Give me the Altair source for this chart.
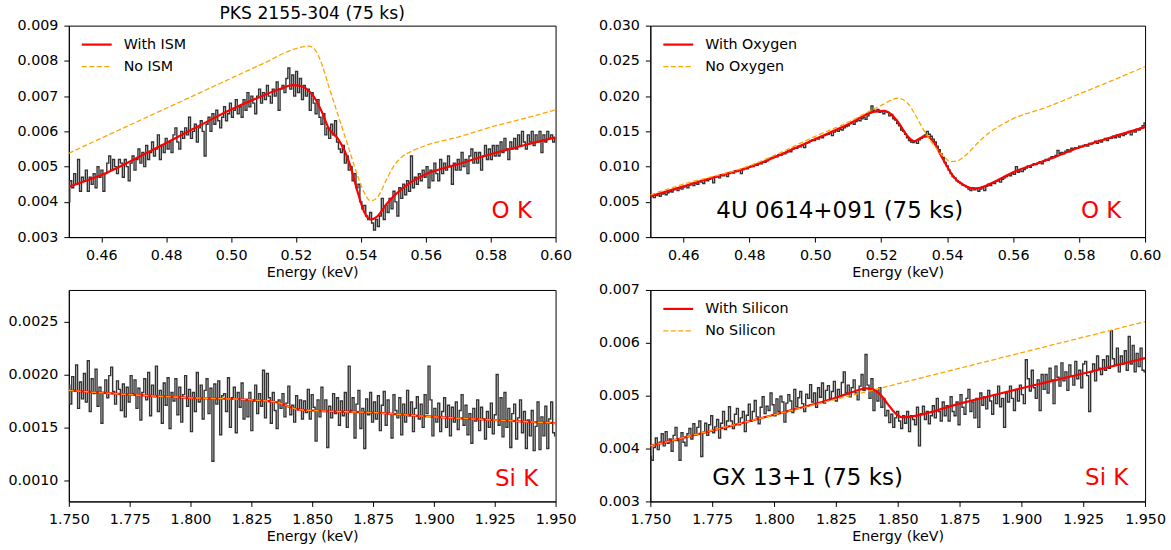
import altair as alt
import numpy as np
import pandas as pd

FONT = "DejaVu Sans"
DATA_COLOR = "#333333"
RED = "#ff0000"
ORANGE = "#ffa500"

# ---------------- Panel 1: PKS 2155-304, O K ----------------
p1_start, p1_bin = 0.450, 0.0006
p1_counts = [
    0.0040, 0.0046, 0.0044, 0.0048, 0.0045, 0.0052, 0.0043, 0.0047, 0.0046, 0.0049,
    0.0043, 0.0047, 0.0045, 0.0048, 0.0044, 0.0050, 0.0047, 0.0049, 0.0043, 0.0048,
    0.0051, 0.0053, 0.0049, 0.0052, 0.0050, 0.0048, 0.0052, 0.0051, 0.0047, 0.0052,
    0.0050, 0.0046, 0.0051, 0.0053, 0.0049, 0.0052, 0.0055, 0.0051, 0.0054, 0.0050,
    0.0056, 0.0052, 0.0054, 0.0057, 0.0053, 0.0055, 0.0059, 0.0052, 0.0056, 0.0054,
    0.0058, 0.0055, 0.0057, 0.0054, 0.0059, 0.0061, 0.0057, 0.0055, 0.0060, 0.0058,
    0.0061, 0.0059, 0.0064, 0.0058, 0.0060, 0.0062, 0.0057, 0.0061, 0.0063, 0.0060,
    0.0053, 0.0062, 0.0064, 0.0060, 0.0065, 0.0062, 0.0066, 0.0063, 0.0061, 0.0064,
    0.0067, 0.0063, 0.0065, 0.0068, 0.0064, 0.0066, 0.0069, 0.0065, 0.0067, 0.0064,
    0.0069, 0.0066, 0.0071, 0.0067, 0.0070, 0.0068, 0.0065, 0.0070, 0.0072, 0.0068,
    0.0071, 0.0069, 0.0073, 0.0070, 0.0068, 0.0072, 0.0070, 0.0074, 0.0066, 0.0072,
    0.0073, 0.0071, 0.0075, 0.0078, 0.0072, 0.0076, 0.0070, 0.0077, 0.0071, 0.0075,
    0.0069, 0.0073, 0.0070, 0.0072, 0.0066, 0.0071, 0.0068, 0.0065, 0.0069, 0.0064,
    0.0062, 0.0065, 0.0059, 0.0061, 0.0058, 0.0062, 0.0059, 0.0063, 0.0057, 0.0055,
    0.0054, 0.0056, 0.0051, 0.0053, 0.0049, 0.0050, 0.0046, 0.0048, 0.0044, 0.0045,
    0.0040, 0.0038, 0.0039, 0.0036, 0.0035, 0.0037, 0.0034, 0.0032, 0.0035, 0.0033,
    0.0036, 0.0041, 0.0035, 0.0039, 0.0037, 0.0041, 0.0038, 0.0043, 0.0040, 0.0036,
    0.0044, 0.0041, 0.0045, 0.0042, 0.0046, 0.0043, 0.0053, 0.0044, 0.0047, 0.0045,
    0.0048, 0.0046, 0.0049, 0.0047, 0.0050, 0.0044, 0.0049, 0.0046, 0.0051, 0.0048,
    0.0046, 0.0052, 0.0048, 0.0051, 0.0049, 0.0053, 0.0050, 0.0045, 0.0051, 0.0049,
    0.0052, 0.0049, 0.0054, 0.0050, 0.0052, 0.0048, 0.0053, 0.0055, 0.0051, 0.0054,
    0.0051, 0.0054, 0.0049, 0.0053, 0.0056, 0.0052, 0.0055, 0.0052, 0.0056, 0.0053,
    0.0056, 0.0053, 0.0057, 0.0054, 0.0058, 0.0055, 0.0052, 0.0057, 0.0055, 0.0058,
    0.0055, 0.0059, 0.0056, 0.0060, 0.0057, 0.0055, 0.0059, 0.0057, 0.0060, 0.0056,
    0.0059, 0.0057, 0.0060, 0.0054, 0.0059, 0.0057, 0.0060, 0.0058, 0.0059, 0.0057,
    0.0058,
]
p1_with_e = [0.45, 0.46, 0.47, 0.48, 0.49, 0.50, 0.51, 0.515, 0.519, 0.521, 0.523, 0.525,
             0.528, 0.530, 0.533, 0.535, 0.537, 0.539, 0.541, 0.543, 0.545, 0.548, 0.550,
             0.555, 0.56, 0.57, 0.58, 0.59, 0.60]
p1_with_v = [0.00443, 0.00476, 0.00520, 0.00567, 0.00615, 0.00662, 0.00702, 0.00720, 0.00731,
             0.00730, 0.00722, 0.00705, 0.00655, 0.00610, 0.00578, 0.00545, 0.00495, 0.00428,
             0.00372, 0.00350, 0.00358, 0.00395, 0.00415, 0.00453, 0.00478, 0.00507, 0.00535,
             0.00560, 0.00583]
p1_no_e = [0.45, 0.47, 0.49, 0.51, 0.52, 0.524, 0.526, 0.528, 0.530, 0.533, 0.536, 0.539,
           0.541, 0.543, 0.545, 0.548, 0.550, 0.553, 0.556, 0.56, 0.57, 0.58, 0.59, 0.60]
p1_no_v = [0.00538, 0.00623, 0.00708, 0.00793, 0.00835, 0.00842, 0.00830, 0.00790, 0.00731,
           0.00645, 0.00560, 0.00474, 0.00427, 0.00403, 0.00412, 0.00465, 0.00500, 0.00530,
           0.00545, 0.00560, 0.00584, 0.00612, 0.00636, 0.00661]

# ---------------- Panel 2: 4U 0614+091, O K ----------------
p2_start, p2_bin = 0.450, 0.0006
p2_counts = [
    0.0057, 0.0058, 0.0056, 0.0059, 0.0060, 0.0058, 0.0061, 0.0062, 0.0060, 0.0063,
    0.0065, 0.0064, 0.0067, 0.0069, 0.0066, 0.0070, 0.0068, 0.0071, 0.0072, 0.0070,
    0.0074, 0.0076, 0.0073, 0.0077, 0.0075, 0.0079, 0.0078, 0.0076, 0.0081, 0.0080,
    0.0082, 0.0084, 0.0077, 0.0085, 0.0086, 0.0084, 0.0088, 0.0087, 0.0089, 0.0086,
    0.0090, 0.0092, 0.0091, 0.0094, 0.0093, 0.0095, 0.0090, 0.0096, 0.0098, 0.0097,
    0.0099, 0.0101, 0.0100, 0.0103, 0.0102, 0.0105, 0.0104, 0.0107, 0.0106, 0.0108,
    0.0110, 0.0112, 0.0113, 0.0115, 0.0114, 0.0117, 0.0116, 0.0119, 0.0118, 0.0120,
    0.0123, 0.0121, 0.0125, 0.0127, 0.0126, 0.0129, 0.0128, 0.0131, 0.0127, 0.0133,
    0.0134, 0.0136, 0.0138, 0.0137, 0.0140, 0.0139, 0.0142, 0.0141, 0.0144, 0.0145,
    0.0146, 0.0148, 0.0144, 0.0149, 0.0151, 0.0150, 0.0153, 0.0152, 0.0155, 0.0157,
    0.0158, 0.0161, 0.0163, 0.0160, 0.0164, 0.0166, 0.0165, 0.0168, 0.0170, 0.0167,
    0.0172, 0.0176, 0.0186, 0.0180, 0.0178, 0.0181, 0.0177, 0.0179, 0.0175, 0.0178,
    0.0177, 0.0172, 0.0174, 0.0168, 0.0166, 0.0161, 0.0158, 0.0152, 0.0150, 0.0146,
    0.0141, 0.0137, 0.0135, 0.0134, 0.0136, 0.0133, 0.0138, 0.0140, 0.0143, 0.0145,
    0.0150, 0.0146, 0.0143, 0.0139, 0.0135, 0.0129, 0.0124, 0.0118, 0.0113, 0.0106,
    0.0101, 0.0095, 0.0090, 0.0086, 0.0084, 0.0080, 0.0078, 0.0076, 0.0074, 0.0073,
    0.0071, 0.0068, 0.0066, 0.0070, 0.0067, 0.0069, 0.0065, 0.0068, 0.0071, 0.0066,
    0.0072, 0.0075, 0.0073, 0.0077, 0.0076, 0.0079, 0.0080, 0.0078, 0.0082, 0.0084,
    0.0086, 0.0088, 0.0087, 0.0090, 0.0089, 0.0100, 0.0092, 0.0094, 0.0093, 0.0096,
    0.0098, 0.0101, 0.0099, 0.0102, 0.0104, 0.0103, 0.0105, 0.0107, 0.0104, 0.0108,
    0.0110, 0.0109, 0.0112, 0.0114, 0.0113, 0.0116, 0.0123, 0.0119, 0.0120, 0.0118,
    0.0122, 0.0124, 0.0121, 0.0126, 0.0125, 0.0127, 0.0126, 0.0129, 0.0128, 0.0130,
    0.0131, 0.0129, 0.0133, 0.0132, 0.0134, 0.0136, 0.0133, 0.0137, 0.0135, 0.0138,
    0.0140, 0.0137, 0.0141, 0.0140, 0.0143, 0.0141, 0.0145, 0.0142, 0.0146, 0.0144,
    0.0146, 0.0148, 0.0150, 0.0145, 0.0151, 0.0149, 0.0153, 0.0152, 0.0155, 0.0158,
    0.0162,
]
p2_with_e = [0.45, 0.46, 0.47, 0.48, 0.49, 0.50, 0.51, 0.518, 0.521, 0.523, 0.525, 0.528,
             0.530, 0.532, 0.534, 0.536, 0.538, 0.540, 0.542, 0.545, 0.548, 0.550, 0.555,
             0.56, 0.57, 0.58, 0.59, 0.60]
p2_with_v = [0.0058, 0.0072, 0.0086, 0.0099, 0.0118, 0.0139, 0.0160, 0.0178, 0.0179, 0.0174,
             0.0164, 0.0143, 0.0136, 0.0141, 0.0143, 0.0134, 0.0117, 0.0100, 0.0085, 0.0074,
             0.0069, 0.0070, 0.0080, 0.0092, 0.0109, 0.0127, 0.0142, 0.0156]
p2_no_e = [0.45, 0.46, 0.48, 0.49, 0.50, 0.51, 0.52, 0.525, 0.528, 0.530, 0.533, 0.536,
           0.539, 0.541, 0.543, 0.546, 0.550, 0.553, 0.556, 0.56, 0.57, 0.58, 0.59, 0.60]
p2_no_v = [0.0060, 0.0075, 0.0101, 0.0121, 0.0143, 0.0163, 0.0187, 0.0197, 0.0190, 0.0176,
           0.0151, 0.0130, 0.0114, 0.0107, 0.0108, 0.0118, 0.0137, 0.0149, 0.0158, 0.0168,
           0.0184, 0.0203, 0.0222, 0.0242]

# ---------------- Panel 3: PKS 2155-304, Si K ----------------
p3_start, p3_bin = 1.750, 0.0008
p3_counts = [
    0.00190, 0.00172, 0.00198, 0.00185, 0.00209, 0.00168, 0.00193, 0.00177, 0.00201, 0.00174,
    0.00213, 0.00165, 0.00196, 0.00182, 0.00205, 0.00170, 0.00188, 0.00154, 0.00183, 0.00195,
    0.00178, 0.00199, 0.00207, 0.00184, 0.00172, 0.00194, 0.00186, 0.00166, 0.00191, 0.00160,
    0.00188, 0.00174, 0.00199, 0.00182, 0.00195, 0.00168, 0.00187, 0.00157, 0.00183, 0.00196,
    0.00176, 0.00202, 0.00161, 0.00190, 0.00179, 0.00208, 0.00165, 0.00185, 0.00154, 0.00192,
    0.00171, 0.00197, 0.00149, 0.00183, 0.00175, 0.00196, 0.00162, 0.00188, 0.00155, 0.00181,
    0.00199, 0.00170, 0.00186, 0.00146, 0.00183, 0.00165, 0.00202, 0.00174, 0.00190, 0.00158,
    0.00185, 0.00196, 0.00163, 0.00187, 0.00118, 0.00191, 0.00172, 0.00194, 0.00143, 0.00180,
    0.00182, 0.00165, 0.00197, 0.00150, 0.00178, 0.00188, 0.00145, 0.00183, 0.00169, 0.00192,
    0.00158, 0.00176, 0.00160, 0.00183, 0.00147, 0.00175, 0.00190, 0.00163, 0.00182, 0.00170,
    0.00204, 0.00159, 0.00201, 0.00178, 0.00154, 0.00183, 0.00166, 0.00149, 0.00176, 0.00168,
    0.00182, 0.00160, 0.00173, 0.00189, 0.00162, 0.00171, 0.00155, 0.00180, 0.00167, 0.00176,
    0.00158, 0.00175, 0.00164, 0.00186, 0.00158, 0.00181, 0.00169, 0.00137, 0.00176, 0.00160,
    0.00188, 0.00165, 0.00176, 0.00131, 0.00170, 0.00159, 0.00182, 0.00163, 0.00178, 0.00152,
    0.00175, 0.00161, 0.00183, 0.00150, 0.00208, 0.00166, 0.00178, 0.00140, 0.00172, 0.00185,
    0.00149, 0.00168, 0.00130, 0.00177, 0.00162, 0.00183, 0.00155, 0.00174, 0.00158, 0.00180,
    0.00147, 0.00171, 0.00184, 0.00152, 0.00176, 0.00163, 0.00140, 0.00181, 0.00166, 0.00159,
    0.00178, 0.00143, 0.00172, 0.00155, 0.00185, 0.00161, 0.00174, 0.00146, 0.00168, 0.00179,
    0.00158, 0.00172, 0.00150, 0.00181, 0.00163, 0.00208, 0.00176, 0.00142, 0.00168, 0.00155,
    0.00173, 0.00146, 0.00165, 0.00178, 0.00150, 0.00171, 0.00142, 0.00169, 0.00155, 0.00174,
    0.00148, 0.00166, 0.00181, 0.00152, 0.00171, 0.00143, 0.00163, 0.00135, 0.00168, 0.00156,
    0.00176, 0.00147, 0.00169, 0.00158, 0.00139, 0.00165, 0.00150, 0.00173, 0.00144, 0.00162,
    0.00200, 0.00152, 0.00178, 0.00141, 0.00183, 0.00150, 0.00168, 0.00131, 0.00163, 0.00172,
    0.00139, 0.00159, 0.00176, 0.00145, 0.00165, 0.00130, 0.00157, 0.00142, 0.00166, 0.00128,
    0.00151, 0.00174, 0.00129, 0.00160, 0.00142, 0.00170, 0.00130, 0.00158, 0.00174, 0.00145,
    0.00142,
]
p3_with_e = [1.75, 1.775, 1.80, 1.825, 1.835, 1.838, 1.841, 1.844, 1.85, 1.875, 1.90, 1.925, 1.95]
p3_with_v = [0.00185, 0.00181, 0.00178, 0.00176, 0.00174, 0.00172, 0.00169, 0.00167, 0.00166,
             0.00164, 0.00160, 0.00157, 0.00154]
p3_no_e = [1.75, 1.775, 1.80, 1.825, 1.835, 1.838, 1.841, 1.844, 1.85, 1.875, 1.90, 1.925, 1.95]
p3_no_v = [0.00185, 0.00181, 0.00178, 0.00176, 0.00174, 0.00172, 0.00169, 0.00167, 0.00166,
           0.00164, 0.00160, 0.00157, 0.00154]

# ---------------- Panel 4: GX 13+1, Si K ----------------
p4_start, p4_bin = 1.750, 0.0008
p4_counts = [
    0.00385, 0.00378, 0.00402, 0.00420, 0.00398, 0.00412, 0.00428, 0.00405, 0.00432, 0.00410,
    0.00418, 0.00395, 0.00425, 0.00440, 0.00415, 0.00378, 0.00430, 0.00412, 0.00405, 0.00428,
    0.00438, 0.00418, 0.00447, 0.00426, 0.00440, 0.00452, 0.00385, 0.00431, 0.00448, 0.00425,
    0.00445, 0.00462, 0.00430, 0.00441, 0.00455, 0.00420, 0.00448, 0.00470, 0.00436, 0.00452,
    0.00479, 0.00452, 0.00438, 0.00465, 0.00476, 0.00445, 0.00458, 0.00470, 0.00432, 0.00463,
    0.00484, 0.00452, 0.00470, 0.00491, 0.00460, 0.00447, 0.00478, 0.00498, 0.00466, 0.00480,
    0.00472, 0.00505, 0.00483, 0.00462, 0.00494, 0.00470, 0.00499, 0.00488, 0.00450, 0.00486,
    0.00502, 0.00490, 0.00468, 0.00512, 0.00479, 0.00496, 0.00508, 0.00485, 0.00470, 0.00503,
    0.00495, 0.00521, 0.00488, 0.00505, 0.00478, 0.00515, 0.00497, 0.00524, 0.00486, 0.00510,
    0.00519, 0.00495, 0.00508, 0.00527, 0.00490, 0.00512, 0.00500, 0.00525, 0.00545, 0.00505,
    0.00520, 0.00498, 0.00515, 0.00530, 0.00505, 0.00492, 0.00518, 0.00540, 0.00510, 0.00578,
    0.00520, 0.00495, 0.00532, 0.00472, 0.00510, 0.00490, 0.00515, 0.00478, 0.00495, 0.00462,
    0.00472, 0.00449, 0.00465, 0.00440, 0.00458, 0.00470, 0.00452, 0.00438, 0.00462, 0.00448,
    0.00470, 0.00432, 0.00462, 0.00455, 0.00445, 0.00478, 0.00405, 0.00466, 0.00480, 0.00455,
    0.00470, 0.00447, 0.00462, 0.00481, 0.00458, 0.00495, 0.00470, 0.00452, 0.00488, 0.00462,
    0.00481, 0.00452, 0.00498, 0.00470, 0.00462, 0.00488, 0.00445, 0.00502, 0.00478, 0.00465,
    0.00495, 0.00512, 0.00470, 0.00488, 0.00458, 0.00495, 0.00440, 0.00505, 0.00482, 0.00498,
    0.00475, 0.00510, 0.00490, 0.00465, 0.00502, 0.00485, 0.00518, 0.00479, 0.00495, 0.00440,
    0.00505, 0.00488, 0.00518, 0.00495, 0.00472, 0.00512, 0.00490, 0.00520, 0.00502, 0.00485,
    0.00568, 0.00532, 0.00509, 0.00548, 0.00515, 0.00495, 0.00530, 0.00472, 0.00540, 0.00512,
    0.00540, 0.00505, 0.00552, 0.00530, 0.00485, 0.00556, 0.00535, 0.00518, 0.00562, 0.00528,
    0.00545, 0.00510, 0.00558, 0.00538, 0.00520, 0.00565, 0.00532, 0.00548, 0.00515, 0.00560,
    0.00565, 0.00538, 0.00470, 0.00545, 0.00560, 0.00528, 0.00575, 0.00552, 0.00540, 0.00568,
    0.00548, 0.00575, 0.00552, 0.00623, 0.00570, 0.00558, 0.00590, 0.00545, 0.00575, 0.00560,
    0.00585, 0.00548, 0.00612, 0.00560, 0.00595, 0.00545, 0.00580, 0.00555, 0.00590, 0.00548,
    0.00545,
]
p4_with_e = [1.75, 1.80, 1.825, 1.833, 1.837, 1.840, 1.843, 1.846, 1.849, 1.852, 1.875, 1.90,
             1.925, 1.95]
p4_with_v = [0.00405, 0.00464, 0.00496, 0.00509, 0.00514, 0.00512, 0.00502, 0.00484, 0.00467,
             0.00459, 0.00485, 0.00514, 0.00542, 0.00571]
p4_no_e = [1.75, 1.95]
p4_no_v = [0.00405, 0.00640]


def energies(start, step, n):
    return [round(start + i * step, 5) for i in range(n)]


def panel(counts, start, step, with_e, with_v, no_e, no_v, xdom, ydom, xticks, yticks,
          xfmt, yfmt, width, height, legend=None, annotations=(), title=None):
    x_enc = alt.X("e:Q", scale=alt.Scale(domain=xdom, nice=False, zero=False),
                  axis=alt.Axis(values=xticks, format=xfmt, title="Energy (keV)", grid=False,
                                labelFlush=False, labelOverlap=False))
    y_enc = alt.Y("v:Q", scale=alt.Scale(domain=ydom, nice=False, zero=False),
                  axis=alt.Axis(values=yticks, format=yfmt, title=None, grid=False,
                                labelFlush=False, labelOverlap=False))

    df_data = pd.DataFrame({"e": energies(start, step, len(counts)), "v": counts})
    df_with = pd.DataFrame({"e": with_e, "v": with_v})
    df_no = pd.DataFrame({"e": no_e, "v": no_v})

    layers = [
        alt.Chart(df_data).mark_line(interpolate="step", color=DATA_COLOR, strokeWidth=1.4,
                                     clip=True).encode(x=x_enc, y=y_enc),
        alt.Chart(df_with).mark_line(interpolate="monotone", color=RED, strokeWidth=2.2,
                                     clip=True).encode(x=x_enc, y=y_enc),
        alt.Chart(df_no).mark_line(interpolate="monotone", color=ORANGE, strokeWidth=1.3,
                                   strokeDash=[5, 2.5], clip=True).encode(x=x_enc, y=y_enc),
    ]
    for (txt, ax, ay, col, align) in annotations:
        df_t = pd.DataFrame({"e": [ax], "v": [ay], "t": [txt]})
        layers.append(
            alt.Chart(df_t).mark_text(font=FONT, fontSize=23, color=col, align=align,
                                      baseline="middle").encode(x=x_enc, y=y_enc, text="t:N")
        )
    if legend:
        one = pd.DataFrame({"a": [0]})
        for i, (lab, col, dash) in enumerate(legend):
            yy = 19 + 22 * i
            kw = dict(color=col, strokeWidth=2.2 if dash is None else 1.3)
            if dash is not None:
                kw["strokeDash"] = dash
            layers.append(alt.Chart(one).mark_rule(**kw).encode(
                x=alt.value(13), x2=alt.value(43), y=alt.value(yy)))
            layers.append(alt.Chart(pd.DataFrame({"t": [lab]})).mark_text(
                font=FONT, fontSize=14.3, color="black", align="left", baseline="middle"
            ).encode(x=alt.value(55), y=alt.value(yy), text="t:N"))

    props = dict(width=width, height=height)
    if title:
        props["title"] = alt.TitleParams(title, font=FONT, fontSize=17.2, fontWeight="normal",
                                         color="black", anchor="middle", offset=-4)
    return alt.layer(*layers).properties(**props)


o_xticks = [0.46, 0.48, 0.50, 0.52, 0.54, 0.56, 0.58, 0.60]
si_xticks = [1.75, 1.775, 1.80, 1.825, 1.85, 1.875, 1.90, 1.925, 1.95]

c1 = panel(p1_counts, p1_start, p1_bin, p1_with_e, p1_with_v, p1_no_e, p1_no_v,
           [0.45, 0.60], [0.003, 0.009], o_xticks,
           [0.003, 0.004, 0.005, 0.006, 0.007, 0.008, 0.009], ".2f", ".3f", 488, 212,
           legend=[("With ISM", RED, None), ("No ISM", ORANGE, [5, 2.5])],
           annotations=[("O K", 0.5865, 0.00373, RED, "center")],
           title="PKS 2155-304 (75 ks)")

c2 = panel(p2_counts, p2_start, p2_bin, p2_with_e, p2_with_v, p2_no_e, p2_no_v,
           [0.45, 0.60], [0.0, 0.030], o_xticks,
           [0.0, 0.005, 0.010, 0.015, 0.020, 0.025, 0.030], ".2f", ".3f", 496, 212,
           legend=[("With Oxygen", RED, None), ("No Oxygen", ORANGE, [5, 2.5])],
           annotations=[("4U 0614+091 (75 ks)", 0.470, 0.0037, "black", "left"),
                        ("O K", 0.5867, 0.0037, RED, "center")])

c3 = panel(p3_counts, p3_start, p3_bin, p3_with_e, p3_with_v, p3_no_e, p3_no_v,
           [1.75, 1.95], [0.0008, 0.0028], si_xticks,
           [0.0010, 0.0015, 0.0020, 0.0025], ".3f", ".4f", 488, 212,
           annotations=[("Si K", 1.934, 0.00101, RED, "center")])

c4 = panel(p4_counts, p4_start, p4_bin, p4_with_e, p4_with_v, p4_no_e, p4_no_v,
           [1.75, 1.95], [0.003, 0.007], si_xticks,
           [0.003, 0.004, 0.005, 0.006, 0.007], ".3f", ".3f", 496, 212,
           legend=[("With Silicon", RED, None), ("No Silicon", ORANGE, [5, 2.5])],
           annotations=[("GX 13+1 (75 ks)", 1.775, 0.00345, "black", "left"),
                        ("Si K", 1.9345, 0.00345, RED, "center")])

chart = alt.concat(
    c1, c2, c3, c4, columns=2, spacing={"row": 53, "column": 95}, bounds="flush"
).properties(
    padding={"left": 7, "top": 4, "right": 5, "bottom": 5},
    background="white",
).configure_axis(
    labelFont=FONT, labelFontSize=14.3, labelColor="black",
    titleFont=FONT, titleFontSize=14.3, titleFontWeight="normal", titleColor="black",
    tickColor="black", domainColor="black", tickSize=5, labelPadding=6, titlePadding=3,
    domainWidth=1, tickWidth=1,
).configure_view(
    stroke="black", strokeWidth=1,
)

chart.save("out.html", embed_options={"renderer": "svg", "actions": False})
